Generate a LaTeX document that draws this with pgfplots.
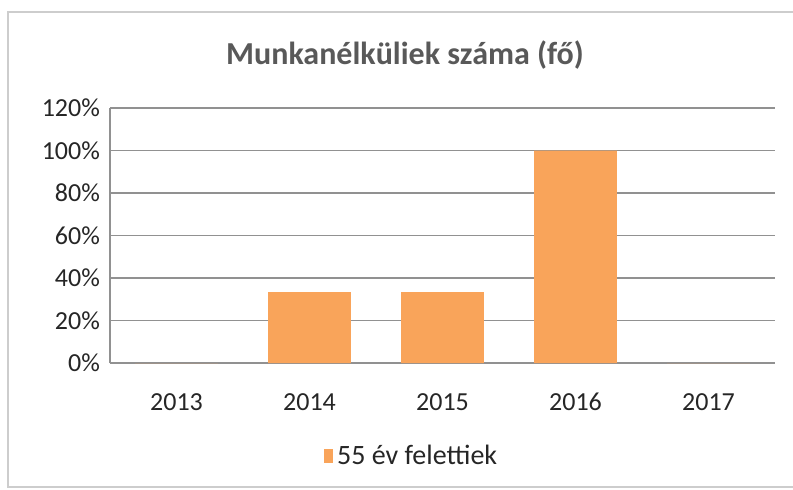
\documentclass[border=0pt]{standalone}
\usepackage{fontspec}
\setmainfont{Carlito}
\usepackage{pgfplots}
\pgfplotsset{compat=1.18}
\definecolor{barorange}{RGB}{249,164,90}
\definecolor{gridgray}{RGB}{145,145,145}
\definecolor{titlegray}{RGB}{89,89,89}
\definecolor{framegray}{RGB}{205,205,205}
\begin{document}
\begin{tikzpicture}
\useasboundingbox (0,0) rectangle (396.5pt,244.5pt);
\draw[framegray, line width=0.8pt] (396.5pt,238.5pt) -- (4pt,238.5pt) -- (4pt,1pt) -- (396.5pt,1pt);
\node[font=\fontsize{16}{19}\selectfont\bfseries, text=titlegray] at (202.5pt,217pt) {Munkanélküliek száma (fő)};
\begin{axis}[
  at={(55pt,63pt)}, anchor=south west,
  scale only axis,
  width=332.5pt, height=127.5pt,
  xmin=-0.5, xmax=4.5,
  ymin=0, ymax=120,
  xtick={0,1,2,3,4},
  xticklabels={2013,2014,2015,2016,2017},
  ytick={0,20,40,60,80,100,120},
  yticklabels={0\%,20\%,40\%,60\%,80\%,100\%,120\%},
  major tick length=0pt,
  axis x line*=bottom, axis y line*=left,
  axis line style={gridgray, line width=0.8pt},
  ymajorgrids,
  grid style={gridgray, line width=0.8pt},
  tick label style={font=\fontsize{13}{15}\selectfont, text=black!85},
  x tick label style={anchor=base, yshift=-23.5pt},
  y tick label style={xshift=-1.5pt},
  ybar, bar width=0.624,
  legend style={draw=none, fill=none, at={(rel axis cs:0.312,-0.365)}, anchor=west,
    font=\fontsize{14}{16}\selectfont, text=black!85},
  legend image code/.code={\fill[barorange] (0pt,-3.4pt) rectangle (4.6pt,3.4pt);},
]
\addplot[fill=barorange, draw=none] coordinates {
  (0,0) (1,33.33) (2,33.33) (3,100) (4,0)
};
\addlegendentry{55 év felettiek}
\end{axis}
\end{tikzpicture}
\end{document}
